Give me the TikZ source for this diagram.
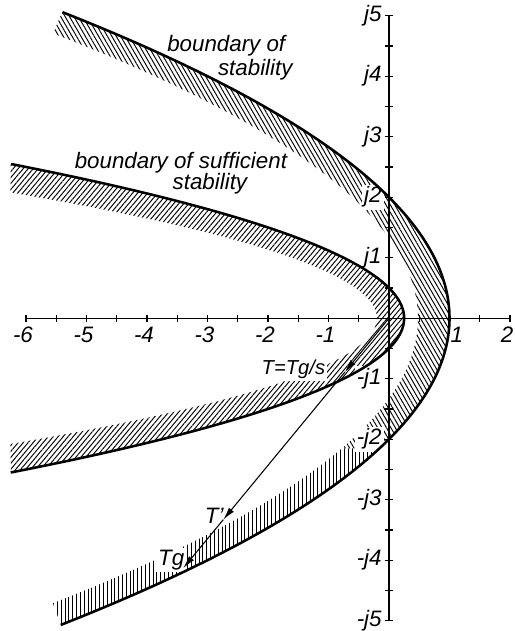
\documentclass[tikz,border=0pt]{standalone}
\usepackage{fontspec}
\setmainfont{Liberation Sans}
\usetikzlibrary{arrows.meta, patterns.meta}

\begin{document}
\begin{tikzpicture}[
    x=1cm, y=1cm,
    font=\fontsize{10.5}{12}\selectfont\itshape,
    curve/.style={line width=1.2pt, line join=round},
    axis/.style={line width=0.6pt},
    tick/.style={line width=0.5pt},
    hatchnw/.style={pattern={Lines[angle=-60, distance=1.8pt, line width=0.45pt]}},
    hatchne/.style={pattern={Lines[angle=50, distance=1.8pt, line width=0.45pt]}},
    hatchv/.style={pattern={Lines[angle=90, distance=1.8pt, line width=0.45pt]}},
    lbl/.style={fill=white, inner sep=1pt},
    ticklbl/.style={inner sep=1pt},
    ray/.style={-{Latex[length=6pt, width=3pt]}, line width=0.5pt},
  ]
  \useasboundingbox (-6.43,-5.17) rectangle (2.07,5.26);

  % hatched bands
  \fill[hatchnw] plot[domain=5.06:-2.15, samples=60] ({1-(\x)*(\x)/4},\x)
    -- plot[domain=-2.15:4.71, samples=60] ({0.48-0.272*(\x)*(\x)},\x) -- cycle;
  \fill[hatchv] plot[domain=-2.15:-5.07, samples=40] ({1-(\x)*(\x)/4},\x)
    -- plot[domain=-4.71:-2.15, samples=40] ({0.48-0.272*(\x)*(\x)},\x) -- cycle;
  \fill[hatchne] plot[domain=2.55:-2.55, samples=80] ({0.25-(\x)*(\x)},\x)
    -- plot[domain=-2.08:2.08, samples=80] ({-0.2-1.4*(\x)*(\x)},\x) -- cycle;

  % labels
  \node (bs1) at (-2.69,4.51) {boundary of};
  \node (bs2) at (-2.21,4.10) {stability};
  \node (bss1) at (-3.44,2.57) {boundary of sufficient};
  \node (bss2) at (-2.96,2.23) {stability};

  \foreach \v in {-6,...,-1}
    \node[ticklbl, anchor=north] (xl\v) at (\v-0.05,-0.1) {\v};
  \node[ticklbl, anchor=north] (xl1) at (1.12,-0.1) {1};
  \node[ticklbl, anchor=north] (xl2) at (1.95,-0.1) {2};
  \foreach \v in {1,...,5} {
    \node[lbl, anchor=east] (yp\v) at (-0.08,\v) {j\v};
    \node[lbl, anchor=east] (yn\v) at (-0.08,-\v) {-j\v};
  }

  \node[lbl, font=\fontsize{9.5}{11}\selectfont\itshape] (tslbl) at (-1.58,-0.85) {T=Tg/s};
  \node[lbl] (tplbl) at (-2.89,-3.26) {T'};
  \node[lbl] (tglbl) at (-3.60,-4.00) {Tg};

  % axes
  \coordinate (xmin) at (-6,0);
  \coordinate (xmax) at (2,0);
  \coordinate (ymin) at (0,-5);
  \coordinate (ymax) at (0,5);
  \draw[axis] (xmin) -- (xmax);
  \draw[axis] (ymin) -- (ymax);
  \foreach \t in {-6,-5.5,...,2}
    \draw[tick] (\t,-0.06) -- (\t,0.06);
  \foreach \t in {-5,-4.5,...,5}
    \draw[tick] (-0.07,\t) -- (0.07,\t);

  % boundaries
  \draw[curve] plot[domain=-5.07:5.06, samples=120] ({1-(\x)*(\x)/4},\x);
  \draw[curve] plot[domain=-2.55:2.55, samples=120] ({0.25-(\x)*(\x)},\x);

  % T vector
  \coordinate (O) at (0,0);
  \coordinate (Ts) at (-0.73,-0.89);
  \coordinate (Tp) at (-2.74,-3.33);
  \coordinate (Tg) at (-3.40,-4.13);
  \draw[ray] (O) -- (Ts);
  \draw[ray] (Ts) -- (Tp);
  \draw[ray] (Tp) -- (Tg);
\end{tikzpicture}
\end{document}
